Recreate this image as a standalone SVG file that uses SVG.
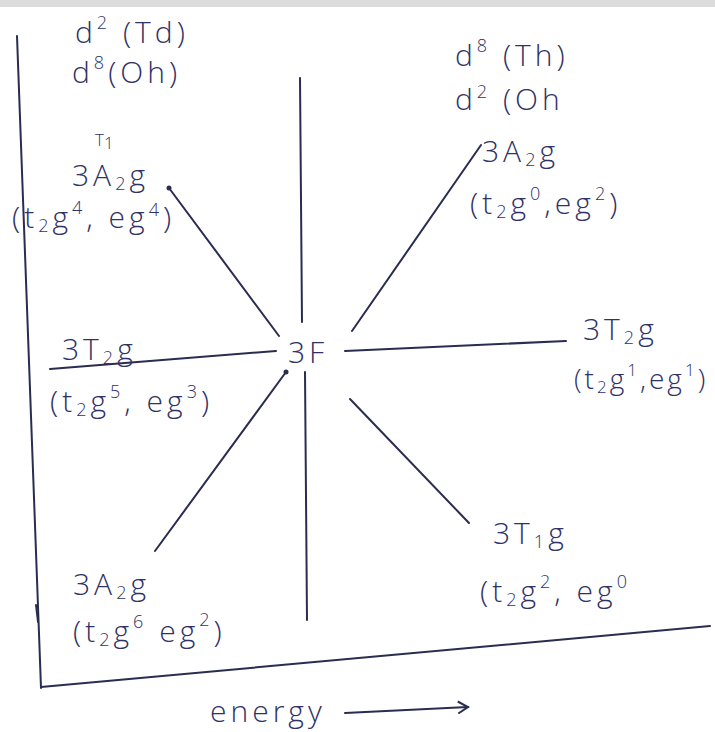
<svg xmlns="http://www.w3.org/2000/svg" width="715" height="732" viewBox="0 0 715 732">
<style>
.ink{fill:#2f3266;font-family:"Open Sans","DejaVu Sans",sans-serif;font-weight:300;}
.lbl{font-size:30px;letter-spacing:4px;}
.sm{font-size:18px;}
.ln{stroke:#2a2c50;stroke-width:2;fill:none;stroke-linecap:round;}
</style>
<defs>
<marker id="ah" markerWidth="14" markerHeight="14" refX="12" refY="7" orient="auto" markerUnits="userSpaceOnUse">
<path d="M2,1 L12,7 L2,13" fill="none" stroke="#2a2c50" stroke-width="2"/>
</marker>
</defs>
<rect x="0" y="0" width="715" height="732" fill="#ffffff"/>
<rect x="0" y="0" width="715" height="7" fill="#dcdcdc"/>

<g id="axes">
<path class="ln" d="M17,36 L41,688"/>
<path class="ln" d="M41,687 L710,626"/>
<path class="ln" d="M36,605 L38,622"/>
</g>

<g id="connectors">
<path class="ln" d="M300,78 L302,322"/>
<path class="ln" d="M305,372 L307,620"/>
<path class="ln" d="M169,188 L279,336"/>
<path class="ln" d="M352,331 L481,145"/>
<path class="ln" d="M50,369 L276,351"/>
<path class="ln" d="M345,351 L566,341"/>
<path class="ln" d="M286,372 L155,551"/>
<path class="ln" d="M350,399 L469,523"/>
<circle cx="169" cy="188" r="2.5" fill="#2a2c50"/>
<circle cx="286" cy="372" r="2.5" fill="#2a2c50"/>
</g>

<g id="center"><text class="ink lbl" x="288" y="363">3F</text></g>

<g id="topleft">
<text class="ink lbl" x="75" y="43">d<tspan class="sm" dy="-14">2</tspan><tspan dy="14"> (Td)</tspan></text>
<text class="ink lbl" x="72" y="83">d<tspan class="sm" dy="-14">8</tspan><tspan dy="14">(Oh)</tspan></text>
</g>

<g id="topright">
<text class="ink lbl" x="455" y="66">d<tspan class="sm" dy="-14">8</tspan><tspan dy="14"> (Th)</tspan></text>
<text class="ink lbl" x="455" y="110">d<tspan class="sm" dy="-12">2</tspan><tspan dy="12"> (Oh</tspan></text>
</g>

<g id="n-a2g-upper-right">
<text class="ink lbl" x="482" y="162">3A<tspan class="sm" dy="4">2</tspan><tspan dy="-4">g</tspan></text>
<text class="ink lbl" x="470" y="214">(t<tspan class="sm" dy="4">2</tspan><tspan dy="-4">g</tspan><tspan class="sm" dy="-14">0</tspan><tspan dy="14">,eg</tspan><tspan class="sm" dy="-14">2</tspan><tspan dy="14">)</tspan></text>
</g>

<g id="n-t1g-upper-left">
<text class="ink" x="95" y="146" font-size="17">T<tspan dy="3">1</tspan></text>
<text class="ink lbl" x="72" y="186">3A<tspan class="sm" dy="4">2</tspan><tspan dy="-4">g</tspan></text>
<text class="ink lbl" x="12" y="228" letter-spacing="1">(t<tspan class="sm" dy="4">2</tspan><tspan dy="-4">g</tspan><tspan class="sm" dy="-14">4</tspan><tspan dy="14">, eg</tspan><tspan class="sm" dy="-12">4</tspan><tspan dy="12">)</tspan></text>
</g>

<g id="n-t2g-left">
<text class="ink lbl" x="62" y="360">3T<tspan class="sm" dy="4">2</tspan><tspan dy="-4">g</tspan></text>
<text class="ink lbl" x="50" y="412" letter-spacing="3">(t<tspan class="sm" dy="4">2</tspan><tspan dy="-4">g</tspan><tspan class="sm" dy="-14">5</tspan><tspan dy="14">, eg</tspan><tspan class="sm" dy="-14">3</tspan><tspan dy="14">)</tspan></text>
</g>

<g id="n-t2g-right">
<text class="ink lbl" x="583" y="340">3T<tspan class="sm" dy="4">2</tspan><tspan dy="-4">g</tspan></text>
<text class="ink" x="574" y="389" font-size="28" letter-spacing="3">(t<tspan font-size="17" dy="4">2</tspan><tspan dy="-4">g</tspan><tspan font-size="17" dy="-13">1</tspan><tspan dy="13">,eg</tspan><tspan font-size="17" dy="-13">1</tspan><tspan dy="13">)</tspan></text>
</g>

<g id="n-t1g-lower-right">
<text class="ink lbl" x="493" y="544">3T<tspan class="sm" dy="4">1</tspan><tspan dy="-4">g</tspan></text>
<text class="ink lbl" x="480" y="602">(t<tspan class="sm" dy="4">2</tspan><tspan dy="-4">g</tspan><tspan class="sm" dy="-14">2</tspan><tspan dy="14">, eg</tspan><tspan class="sm" dy="-14">0</tspan></text>
</g>

<g id="n-a2g-lower-left">
<text class="ink lbl" x="73" y="595">3A<tspan class="sm" dy="4">2</tspan><tspan dy="-4">g</tspan></text>
<text class="ink lbl" x="73" y="642">(t<tspan class="sm" dy="4">2</tspan><tspan dy="-4">g</tspan><tspan class="sm" dy="-14">6</tspan><tspan dy="14"> eg</tspan><tspan class="sm" dy="-16">2</tspan><tspan dy="16">)</tspan></text>
</g>

<g id="energy">
<text class="ink lbl" x="210" y="722" letter-spacing="2">energy</text>
<path class="ln" d="M345,713 L468,707" marker-end="url(#ah)"/>
</g>
</svg>
